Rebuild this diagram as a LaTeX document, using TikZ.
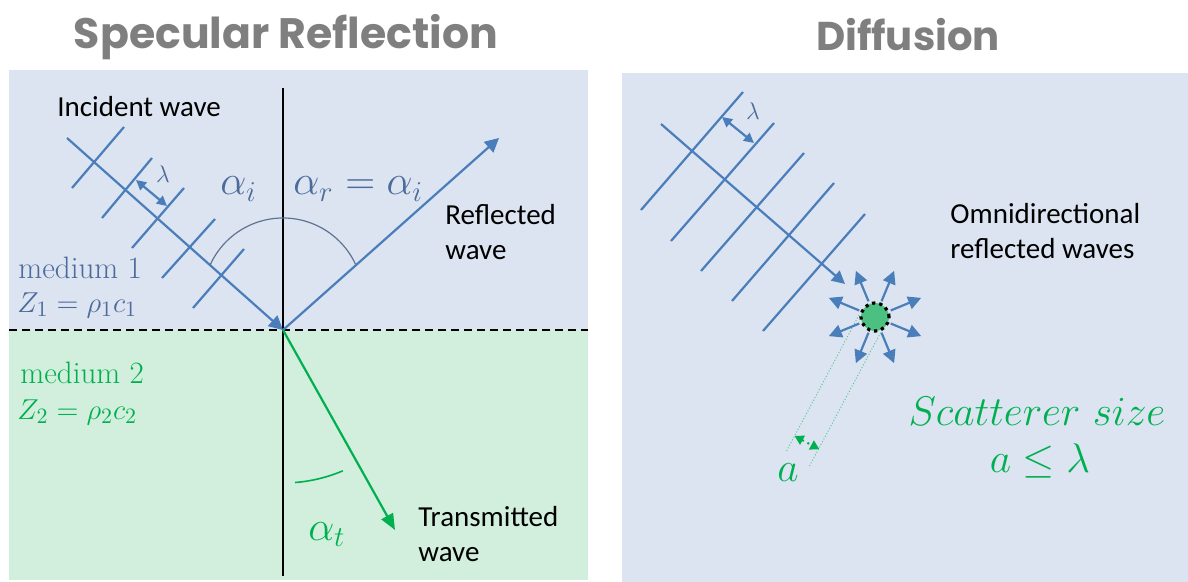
\documentclass[tikz,border=0pt]{standalone}
\usepackage{fontspec}
\usepackage{graphicx}
\usetikzlibrary{arrows.meta}
\newfontfamily\titlefont{Poppins}
\newfontfamily\calibri{Carlito}
\definecolor{bgblue}{RGB}{220,228,241}
\definecolor{bggreen}{RGB}{210,238,220}
\definecolor{wblue}{RGB}{74,126,187}
\definecolor{tblue}{RGB}{76,106,154}
\definecolor{arcblue}{RGB}{95,115,145}
\definecolor{tgreen}{RGB}{0,176,80}
\definecolor{sgreen}{RGB}{76,192,128}
\definecolor{lgreen}{RGB}{90,200,140}
\definecolor{ttitle}{RGB}{127,127,127}
\begin{document}
\begin{tikzpicture}[x=0.5pt,y=-0.5pt,
  wave/.style={draw=wblue,line width=1.1pt},
  ray/.style={wave,-{Triangle[length=7pt,width=7pt]}},
  smallray/.style={wave,-{Triangle[length=6.5pt,width=6.5pt]}},
  lam/.style={wave,{Triangle[length=5pt,width=5pt]}-{Triangle[length=5pt,width=5pt]}},
  tray/.style={draw=tgreen,line width=1.1pt,-{Triangle[length=8pt,width=6.5pt]}},
  lbl/.style={font=\calibri\fontsize{14.5}{17.5}\selectfont,align=left,anchor=west,inner sep=0pt},
  med/.style={font=\fontsize{15.5}{18}\selectfont,anchor=west,inner sep=0pt},
  bigmath/.style={font=\fontsize{20.5}{24}\selectfont,inner sep=0pt},
  title/.style={text=ttitle,font=\titlefont\bfseries,inner sep=0pt}
]
\useasboundingbox (0,0) rectangle (1188,582);
\fill[white] (0,0) rectangle (1188,582);

% ---------- titles ----------
\node[title] (t1) at (286,37) {\resizebox{212pt}{!}{Specular Reflection}};
\node[title] (t2) at (908,35) {\resizebox{92pt}{!}{Diffusion}};

% ---------- left panel ----------
\fill[bgblue] (9,70) rectangle (588,330);
\fill[bggreen] (9,330) rectangle (588,580);
\coordinate (dl) at (9,330);
\coordinate (dr) at (588,330);
\draw[line width=1pt,dash pattern=on 4pt off 2.5pt] (dl) -- (dr);
\coordinate (vt) at (283,88);
\coordinate (vb) at (283,576);
\draw[line width=1pt] (vt) -- (vb);

\coordinate (O) at (283,330);
\coordinate (Is) at (67,138);
\coordinate (Re) at (499,138);
\coordinate (Te) at (395,530);

% wavefronts
\draw[wave] (124,127) -- (72,188);
\draw[wave] (152,158) -- (102,218);
\draw[wave] (184,188) -- (132,248);
\draw[wave] (215,219) -- (162,278);
\draw[wave] (244,249) -- (193,308);
\coordinate (l1) at (136,180);
\coordinate (l2) at (167,206);
\draw[lam] (l1) -- (l2);
\node[font=\fontsize{12.5}{14}\selectfont,text=tblue,inner sep=0pt] (lamL) at (163,174) {$\lambda$};

\draw[ray] (Is) -- (O);
\draw[ray] (O) -- (Re);
\draw[tray] (O) -- (Te);

% angle arcs
\draw[arcblue,line width=0.6pt] (283,298) ++(204.3:80) arc[start angle=204.3,end angle=335.1,radius=80];
\draw[tgreen,line width=0.8pt] (O) ++(85.5:153) arc[start angle=85.5,end angle=67,radius=153];

% labels
\node[lbl] (inc) at (57,107) {Incident wave};
\node[lbl] (refl) at (445,232) {Reflected\\wave};
\node[lbl] (trans) at (418,534) {Transmitted\\wave};
\node[bigmath,text=tblue,anchor=base west] (ai) at (220,195) {$\alpha_i$};
\node[bigmath,text=tblue,anchor=base west] (ar) at (293,195) {$\alpha_r=\alpha_i$};
\node[bigmath,text=tgreen,anchor=base west] (at) at (308,540) {$\alpha_t$};
\node[med,text=tblue] (m1) at (18,268) {medium 1};
\node[med,text=tblue] (z1) at (17,305) {$Z_1=\rho_1 c_1$};
\node[med,text=tgreen] (m2) at (20,373) {medium 2};
\node[med,text=tgreen] (z2) at (17,412) {$Z_2=\rho_2 c_2$};

% ---------- right panel ----------
\fill[bgblue] (622,73) rectangle (1188,582);
\draw[wave] (743,92) -- (641,210);
\draw[wave] (774,123) -- (671,241);
\draw[wave] (804,153) -- (701,271);
\draw[wave] (834,183) -- (732,301);
\draw[wave] (865,214) -- (763,331);
\coordinate (r1) at (722,117);
\coordinate (r2) at (754,143);
\draw[lam] (r1) -- (r2);
\node[font=\fontsize{12.5}{14}\selectfont,text=tblue,inner sep=0pt] (lamR) at (753,111) {$\lambda$};

% scatterer tangent lines
\coordinate (ga1) at (859,315);
\coordinate (ga2) at (786,452);
\coordinate (gb1) at (882,330);
\coordinate (gb2) at (809,467);
\draw[lgreen,line width=0.5pt,densely dotted] (ga1) -- (ga2);
\draw[lgreen,line width=0.5pt,densely dotted] (gb1) -- (gb2);
\coordinate (aa) at (794.6,436);
\coordinate (ab) at (819.3,449.2);
\draw[tgreen,line width=1pt,dotted,{Triangle[length=4.5pt,width=5pt]}-{Triangle[length=4.5pt,width=5pt]}] (aa) -- (ab);

\node[circle,fill=sgreen,draw=black,line width=1.6pt,dash pattern=on 1.6pt off 2pt,minimum size=14pt,inner sep=0pt] (S) at (875,317) {};
\coordinate (Ds) at (661,124);
\coordinate (Dt) at (845,284);
\draw[smallray] (Ds) -- (Dt);
\foreach \a in {22.5,67.5,...,337.5}
  \draw[smallray] (S) ++(\a:17) -- ++(\a:33);

\node[lbl] (omni) at (950,231) {Omnidirectional\\reflected waves};
\node[bigmath,text=tgreen,anchor=base] (sc) at (1037,425) {$Scatterer\ size$};
\node[bigmath,text=tgreen,anchor=base] (al) at (1040,473) {$a\leq\lambda$};
\node[font=\fontsize{22}{26}\selectfont,text=tgreen,anchor=base,inner sep=0pt] (alab) at (788,481) {$a$};
\end{tikzpicture}
\end{document}
